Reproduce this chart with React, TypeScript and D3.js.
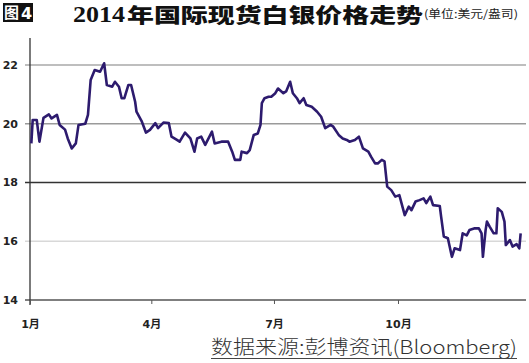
import React, { Component } from 'react';
import * as d3 from 'd3';

// 2014 silver spot price (USD/oz)
const dates = [
  '01-02', '01-03', '01-06', '01-08', '01-11', '01-15', '01-17', '01-21', '01-23', '01-27',
  '01-29', '02-01', '02-04', '02-06', '02-11', '02-13', '02-15', '02-18', '02-22', '02-25',
  '02-27', '03-03', '03-05', '03-08', '03-10', '03-12', '03-15', '03-17', '03-20', '03-21',
  '03-25', '03-28', '03-31', '04-04', '04-06', '04-10', '04-14', '04-16', '04-20', '04-22',
  '04-26', '04-30', '05-03', '05-05', '05-08', '05-11', '05-16', '05-18', '05-23', '05-28',
  '05-31', '06-02', '06-06', '06-07', '06-11', '06-13', '06-16', '06-19', '06-21', '06-22',
  '06-24', '06-27', '06-29', '07-02', '07-04', '07-08', '07-10', '07-13', '07-15', '07-18',
  '07-20', '07-23', '07-25', '07-29', '08-02', '08-05', '08-08', '08-12', '08-14', '08-18',
  '08-21', '08-24', '08-26', '08-30', '09-02', '09-05', '09-09', '09-11', '09-14', '09-16',
  '09-19', '09-21', '09-23', '09-26', '09-29', '10-02', '10-06', '10-09', '10-11', '10-14',
  '10-17', '10-20', '10-22', '10-25', '10-27', '11-01', '11-02', '11-04', '11-07', '11-10',
  '11-12', '11-16', '11-18', '11-21', '11-23', '11-27', '11-30', '12-02', '12-03', '12-05',
  '12-06', '12-08', '12-11', '12-13', '12-14', '12-17', '12-19', '12-20', '12-23', '12-25',
  '12-28', '12-30', '12-31',
];
const prices = [
  19.33, 20.13, 20.13, 19.39, 20.2, 20.32, 20.18, 20.3, 19.96, 19.8,
  19.5, 19.16, 19.33, 19.96, 20.0, 20.3, 21.49, 21.83, 21.77, 22.06,
  21.32, 21.26, 21.43, 21.26, 20.87, 20.87, 21.32, 21.32, 20.75, 20.41,
  20.07, 19.7, 19.79, 20.02, 19.85, 20.04, 20.02, 19.56, 19.45, 19.39,
  19.7, 19.5, 19.05, 19.5, 19.56, 19.28, 19.73, 19.33, 19.39, 19.39,
  19.05, 18.77, 18.77, 19.05, 19.0, 19.1, 19.62, 19.67, 19.96, 20.7,
  20.87, 20.92, 20.92, 21.04, 21.2, 21.04, 21.1, 21.43, 21.04, 20.87,
  20.7, 20.87, 20.64, 20.58, 20.41, 20.24, 19.85, 19.96, 19.9, 19.62,
  19.5, 19.45, 19.39, 19.45, 19.56, 19.16, 19.05, 18.88, 18.65, 18.65,
  18.77, 18.72, 17.86, 17.74, 17.52, 17.57, 16.89, 17.18, 17.06, 17.35,
  17.4, 17.46, 17.3, 17.52, 17.23, 17.2, 16.84, 16.16, 16.1, 15.47,
  15.76, 15.7, 16.27, 16.2, 16.38, 16.44, 16.44, 16.27, 15.47, 16.38,
  16.67, 16.5, 16.27, 16.27, 17.12, 17.0, 16.67, 15.87, 16.04, 15.82,
  15.9, 15.76, 16.27,
];
const yTicks = [14, 16, 18, 20, 22];
const xTicks = ['2014-01-01', '2014-04-01', '2014-07-01', '2014-10-01'];
// scanned gridlines are not all the same shade
const gridColors = ['#555', '#d8d8d8', '#333', '#9a9a9a', '#a8a8a8'];

const title = '年国际现货白银价格走势';
const unit = '(单位:美元/盎司)';
const source = '数据来源:彭博资讯(Bloomberg)';

class SilverChart extends Component {
  constructor(props) {
    super(props);
    this.svgReal = React.createRef();
  }

  componentDidMount() {
    this.createChart();
  }

  createChart = () => {
    const width = 529;
    const height = 363;
    const margin = {
      top: 65, right: 3, bottom: 63, left: 30,
    };
    const parse = d3.timeParse('%Y-%m-%d');
    const data = dates.map((d, i) => ({ date: parse(`2014-${d}`), value: prices[i] }));

    const svg = d3.select(this.svgReal.current)
      .attr('width', width)
      .attr('height', height);
    svg.selectAll('*').remove();

    svg.append('rect')
      .attr('width', width)
      .attr('height', height)
      .attr('fill', '#fff');

    // set the ranges
    const x = d3.scaleTime()
      .domain([parse('2014-01-01'), parse('2015-01-01')])
      .range([margin.left, 522]);
    const y = d3.scaleLinear()
      .domain([14, 22])
      .range([height - margin.bottom, margin.top]);
    const right = width - margin.right;

    // horizontal gridlines, with a short tick left of the axis
    svg.append('g')
      .selectAll('line')
      .data(yTicks)
      .join('line')
      .attr('x1', margin.left - 5)
      .attr('x2', right)
      .attr('y1', d => y(d))
      .attr('y2', d => y(d))
      .attr('stroke', (d, i) => gridColors[i])
      .attr('stroke-width', 1.3);

    svg.append('g')
      .selectAll('text')
      .data(yTicks)
      .join('text')
      .attr('x', 18)
      .attr('y', d => y(d))
      .attr('dy', '0.36em')
      .attr('text-anchor', 'end')
      .attr('font-family', 'DejaVu Sans, sans-serif')
      .attr('font-weight', 'bold')
      .attr('font-size', 11)
      .attr('fill', '#222')
      .text(d => d);

    // vertical axis
    svg.append('line')
      .attr('x1', margin.left)
      .attr('x2', margin.left)
      .attr('y1', y(22.92))
      .attr('y2', y(14) + 5)
      .attr('stroke', '#333')
      .attr('stroke-width', 1.3);

    // x axis ticks and labels
    const xAxis = svg.append('g')
      .attr('transform', `translate(0,${y(14)})`)
      .call(d3.axisBottom(x)
        .tickValues(xTicks.map(parse))
        .tickSize(4)
        .tickPadding(16)
        .tickFormat(d => `${d.getMonth() + 1}月`));
    xAxis.select('.domain').remove();
    xAxis.selectAll('line').attr('stroke', '#555');
    xAxis.selectAll('text')
      .attr('font-family', 'DejaVu Sans, Noto Sans CJK SC, sans-serif')
      .attr('font-weight', 'bold')
      .attr('font-size', 11)
      .attr('fill', '#222');

    // price line
    const valueline = d3.line()
      .x(d => x(d.date))
      .y(d => y(d.value));
    svg.append('path')
      .datum(data)
      .attr('fill', 'none')
      .attr('stroke', '#2d1b6e')
      .attr('stroke-width', 2.6)
      .attr('stroke-linejoin', 'round')
      .attr('d', valueline);

    // figure number
    svg.append('rect')
      .attr('x', 3)
      .attr('y', 3)
      .attr('width', 30)
      .attr('height', 19)
      .attr('fill', '#111');
    svg.append('text')
      .attr('x', 4)
      .attr('y', 18)
      .attr('font-family', 'Noto Sans CJK SC')
      .attr('font-weight', 'bold')
      .attr('font-size', 15)
      .attr('fill', '#fff')
      .text('图');
    svg.append('text')
      .attr('x', 21)
      .attr('y', 19)
      .attr('font-family', 'DejaVu Sans, sans-serif')
      .attr('font-weight', 'bold')
      .attr('font-size', 16)
      .attr('fill', '#fff')
      .text('4');

    // title
    svg.append('text')
      .attr('x', 73)
      .attr('y', 22)
      .attr('font-family', 'Liberation Serif, serif')
      .attr('font-weight', 'bold')
      .attr('font-size', 24)
      .attr('textLength', 52)
      .attr('lengthAdjust', 'spacingAndGlyphs')
      .attr('fill', '#111')
      .text('2014');
    svg.append('text')
      .attr('x', 127)
      .attr('y', 23)
      .attr('font-family', 'Noto Sans CJK SC')
      .attr('font-weight', 900)
      .attr('font-size', 20)
      .attr('textLength', 296)
      .attr('lengthAdjust', 'spacingAndGlyphs')
      .attr('fill', '#111')
      .text(title);
    svg.append('text')
      .attr('x', 424)
      .attr('y', 18)
      .attr('font-family', 'Noto Sans CJK SC')
      .attr('font-size', 11)
      .attr('textLength', 94)
      .attr('lengthAdjust', 'spacingAndGlyphs')
      .attr('fill', '#222')
      .text(unit);

    // source note, underlined
    svg.append('text')
      .attr('x', 211)
      .attr('y', 354)
      .attr('font-family', 'Noto Sans CJK SC')
      .attr('font-weight', 300)
      .attr('font-size', 19)
      .attr('textLength', 306)
      .attr('lengthAdjust', 'spacingAndGlyphs')
      .attr('fill', '#333')
      .text(source);
    svg.append('line')
      .attr('x1', 211)
      .attr('x2', 517)
      .attr('y1', 358.5)
      .attr('y2', 358.5)
      .attr('stroke', '#444')
      .attr('stroke-width', 1);
  }

  render() {
    return (
      <div className="silver-chart" style={{ position: 'absolute', left: 0, top: 0 }}>
        <svg ref={this.svgReal} style={{ display: 'block' }} />
      </div>
    );
  }
}

export default function App() {
  return <SilverChart />;
}
